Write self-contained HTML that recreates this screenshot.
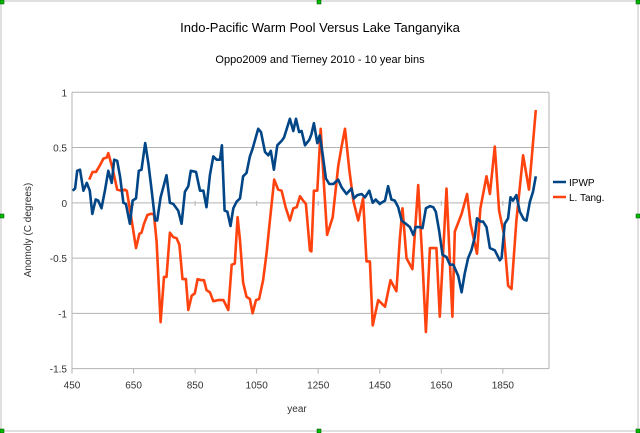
<!DOCTYPE html>
<html><head><meta charset="utf-8"><style>
body{margin:0;background:#fff;}
svg{display:block;font-family:"Liberation Sans",sans-serif;}
</style></head><body>
<svg id="chart" width="640" height="433">
<rect x="1" y="1" width="637" height="430" fill="#fff" stroke="#c0c0c0"/>
<text x="320" y="32" font-size="13" text-anchor="middle" fill="#000">Indo-Pacific Warm Pool Versus Lake Tanganyika</text>
<text x="320" y="63" font-size="11" text-anchor="middle" fill="#000">Oppo2009 and Tierney 2010 - 10 year bins</text>
<text transform="translate(31,230) rotate(-90)" font-size="10" text-anchor="middle" fill="#333">Anomoly (C degrees)</text>
<text x="297" y="412" font-size="10" text-anchor="middle" fill="#333">year</text>
<g id="grid"></g><g id="axes"></g><g id="series"></g>
<g>
<line x1="553" y1="182" x2="566" y2="182" stroke="#004586" stroke-width="2.5"/>
<text x="569" y="186" font-size="10" fill="#000">IPWP</text>
<line x1="553" y1="197" x2="566" y2="197" stroke="#ff420e" stroke-width="2.5"/>
<text x="569" y="201" font-size="10" fill="#000">L. Tang.</text>
</g>
<g fill="#00c000" stroke="#004000" stroke-width="0.5">
<rect x="0" y="0" width="4" height="4"/><rect x="317" y="0" width="4" height="4"/><rect x="636" y="0" width="4" height="4"/>
<rect x="0" y="214" width="4" height="4"/><rect x="636" y="214" width="4" height="4"/>
<rect x="0" y="429" width="4" height="4"/><rect x="317" y="429" width="4" height="4"/><rect x="636" y="429" width="4" height="4"/>
</g>
</svg>
<script>
const yTicks=[1,0.5,0,-0.5,-1,-1.5];
const yTickLabels=["1","0.5","0","-0.5","-1","-1.5"];
const xTicks=[450,650,850,1050,1250,1450,1650,1850];
const ipwpYears=[452,460,467,476,487,498,508,516,527,535,546,557,568,579,587,597,606,617,625,638,647,658,667,676,688,698,709,720,727,738,757,768,779,795,806,817,828,836,853,866,877,887,898,909,920,931,937,946,955,965,974,985,996,1006,1017,1028,1037,1055,1064,1077,1088,1096,1106,1117,1131,1139,1158,1169,1178,1188,1196,1207,1221,1228,1236,1247,1255,1264,1275,1286,1299,1315,1326,1342,1358,1366,1377,1391,1402,1416,1427,1437,1450,1467,1477,1488,1499,1510,1521,1535,1548,1559,1567,1580,1589,1600,1613,1624,1632,1643,1654,1667,1678,1689,1705,1716,1726,1737,1748,1759,1766,1777,1786,1797,1808,1824,1840,1846,1856,1867,1875,1883,1894,1905,1918,1927,1938,1948,1957];
const ipwpValues=[0.11,0.13,0.29,0.30,0.11,0.18,0.11,-0.10,0.03,0.02,-0.05,0.11,0.29,0.18,0.39,0.38,0.24,0,-0.01,-0.19,0.02,0.04,0.29,0.30,0.54,0.36,0.11,-0.16,-0.16,0.05,0.25,0,-0.01,-0.07,-0.19,0.10,0.15,0.29,0.28,0.11,0.11,-0.04,0.25,0.42,0.39,0.39,0.52,-0.07,-0.08,-0.21,-0.05,0.01,0.04,0.24,0.27,0.42,0.49,0.67,0.64,0.46,0.43,0.47,0.30,0.52,0.56,0.59,0.76,0.65,0.76,0.64,0.65,0.52,0.57,0.62,0.72,0.54,0.61,0.45,0.22,0.17,0.17,0.21,0.14,0.08,0.13,0.04,0.07,0.08,0.05,0.11,0,0.03,-0.01,0.02,0.15,0.03,0.02,-0.04,-0.16,-0.19,-0.22,-0.29,-0.22,-0.22,-0.23,-0.05,-0.03,-0.04,-0.08,-0.25,-0.47,-0.49,-0.56,-0.56,-0.66,-0.81,-0.64,-0.50,-0.43,-0.31,-0.14,-0.17,-0.17,-0.22,-0.41,-0.43,-0.52,-0.50,-0.19,-0.14,0.05,0.02,0.07,-0.08,-0.15,-0.16,0.01,0.10,0.24];
const tangYears=[506,517,528,541,552,563,568,582,597,611,622,628,644,658,669,676,684,695,705,716,725,738,749,757,768,779,790,799,809,820,828,839,849,858,871,879,887,898,909,925,942,958,969,979,988,996,1006,1017,1028,1037,1048,1058,1071,1082,1093,1107,1120,1131,1144,1158,1169,1180,1191,1201,1210,1223,1228,1236,1247,1258,1268,1279,1297,1315,1326,1337,1351,1364,1380,1396,1407,1418,1427,1445,1467,1485,1504,1515,1524,1537,1556,1575,1589,1600,1613,1634,1645,1667,1686,1694,1716,1734,1745,1766,1777,1797,1808,1824,1838,1853,1867,1878,1894,1916,1935,1957];
const tangValues=[0.21,0.28,0.28,0.34,0.40,0.41,0.45,0.31,0.12,0.11,0.12,0.11,-0.16,-0.41,-0.28,-0.27,-0.19,-0.11,-0.10,-0.10,-0.35,-1.08,-0.67,-0.67,-0.27,-0.31,-0.32,-0.38,-0.69,-0.69,-0.97,-0.84,-0.82,-0.69,-0.70,-0.70,-0.79,-0.81,-0.89,-0.88,-0.88,-0.97,-0.56,-0.55,-0.13,-0.34,-0.72,-0.85,-0.87,-1.0,-0.88,-0.87,-0.70,-0.46,-0.16,0.21,0.12,0.11,-0.04,-0.16,-0.05,-0.04,0.06,0.02,-0.01,-0.43,-0.44,0.11,0.11,0.67,0.20,-0.29,-0.13,0.33,0.51,0.67,0.30,0.02,-0.16,0.04,-0.53,-0.53,-1.11,-0.88,-0.94,-0.70,-0.80,-0.34,-0.05,-0.50,-0.60,0.16,-0.54,-1.17,-0.41,-0.41,-1.03,0.13,-1.03,-0.26,-0.10,0.08,-0.19,-0.46,-0.05,0.24,0.08,0.51,-0.07,-0.28,-0.75,-0.78,-0.16,0.43,0.12,0.84];

const X0=72,X1=549,Y0=92.3,Y1=368.6;
const xMin=450,xMax=2000,yMin=-1.5,yMax=1;
function xs(v){return X0+(v-xMin)/(xMax-xMin)*(X1-X0);}
function ys(v){return Y1-(v-yMin)/(yMax-yMin)*(Y1-Y0);}
const NS="http://www.w3.org/2000/svg";
function mk(tag,attrs,parent){const e=document.createElementNS(NS,tag);for(const k in attrs)e.setAttribute(k,attrs[k]);parent.appendChild(e);return e;}
const grid=document.getElementById('grid'),axes=document.getElementById('axes'),series=document.getElementById('series');
yTicks.forEach((t,i)=>{
  const g=mk('line',{x1:X0,x2:X1,y1:ys(t),y2:ys(t),stroke:'#b3b3b3','stroke-width':1},grid);
  
  
  const l=mk('text',{x:X0-5,y:ys(t)+4,'font-size':10,'text-anchor':'end',fill:'#333'},axes);
  l.textContent=yTickLabels[i];
  
  
});
const fr=mk('line',{x1:X1,x2:X1,y1:Y0,y2:Y1,stroke:'#b3b3b3'},grid);


const ya=mk('line',{x1:X0,x2:X0,y1:Y0,y2:Y1+4,stroke:'#b3b3b3'},axes);


xTicks.forEach(t=>{
  const tk=mk('line',{x1:xs(t),x2:xs(t),y1:Y1,y2:Y1+5,stroke:'#b3b3b3'},axes);
  
  
  const mt=mk('line',{x1:xs(t),x2:xs(t),y1:ys(0)-2,y2:ys(0)+3,stroke:'#b3b3b3'},axes);
  
  
  const l=mk('text',{x:xs(t),y:Y1+20,'font-size':10,'text-anchor':'middle',fill:'#333'},axes);
  l.textContent=String(t);
  
  
});
function line(years,vals,color,name){
  const d=years.map((y,i)=>(i?'L':'M')+xs(y).toFixed(1)+','+ys(vals[i]).toFixed(1)).join('');
  const p=mk('path',{d:d,fill:'none',stroke:color,'stroke-width':2.6,'stroke-linejoin':'round'},series);
  
  
}
line(tangYears,tangValues,'#ff420e','series-l-tang');
line(ipwpYears,ipwpValues,'#004586','series-ipwp');
</script>
</body></html>
